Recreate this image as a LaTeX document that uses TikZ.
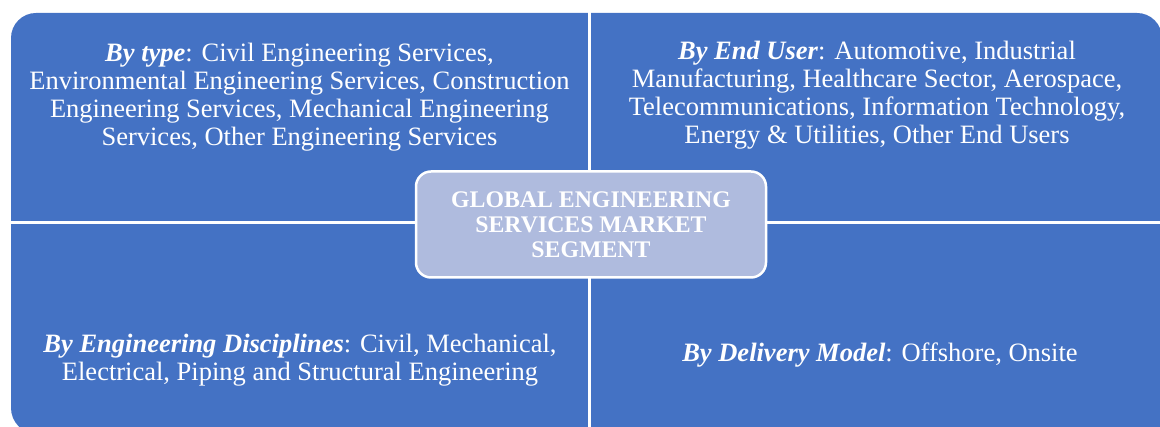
\documentclass[tikz,border=0pt]{standalone}
\usepackage{fontspec}
\setmainfont{Liberation Serif}
\definecolor{qblue}{RGB}{68,114,196}
\definecolor{cfill}{RGB}{175,187,222}
\tikzset{
  qtext/.style={text=white, inner sep=0pt, align=center, font=\fontsize{26.5}{28}\selectfont},
  centerbox/.style={draw=white, line width=2.5pt, fill=cfill, rounded corners=15pt,
    minimum width=350pt, minimum height=106pt, text=white, align=center,
    font=\fontsize{23.8}{25}\selectfont\bfseries},
  divider/.style={white, line width=3pt}
}
\begin{document}
\begin{tikzpicture}[x=1pt,y=1pt]
\useasboundingbox (0,0) rectangle (1160,427);
\clip (0,0) rectangle (1160,427);
\fill[qblue, rounded corners=25pt] (11,-6) -- (11,414) -- (1162,414) -- (1162,-60) -- cycle;
\coordinate (vt) at (589.5,420);
\coordinate (vb) at (589.5,-10);
\coordinate (hl) at (0,204.5);
\coordinate (hr) at (1170,204.5);
\draw[divider] (vt) -- (vb);
\draw[divider, line width=2.5pt] (hl) -- (hr);
\node[centerbox] (center) at (591,202.5) {GLOBAL ENGINEERING\\SERVICES MARKET\\SEGMENT};
\node[qtext, anchor=north] (tl) at (299.5,384.5) {\textbf{\textit{By type}}: Civil Engineering Services,\\Environmental Engineering Services, Construction\\Engineering Services, Mechanical Engineering\\Services, Other Engineering Services};
\node[qtext, anchor=north] (tr) at (877,386.5) {\textbf{\textit{By End User}}: Automotive, Industrial\\Manufacturing, Healthcare Sector, Aerospace,\\Telecommunications, Information Technology,\\Energy \& Utilities, Other End Users};
\node[qtext, anchor=north] (bl) at (300,93) {\textbf{\textit{By Engineering Disciplines}}: Civil, Mechanical,\\Electrical, Piping and Structural Engineering};
\node[qtext, anchor=north] (br) at (880,84) {\textbf{\textit{By Delivery Model}}: Offshore, Onsite};
\end{tikzpicture}
\end{document}
